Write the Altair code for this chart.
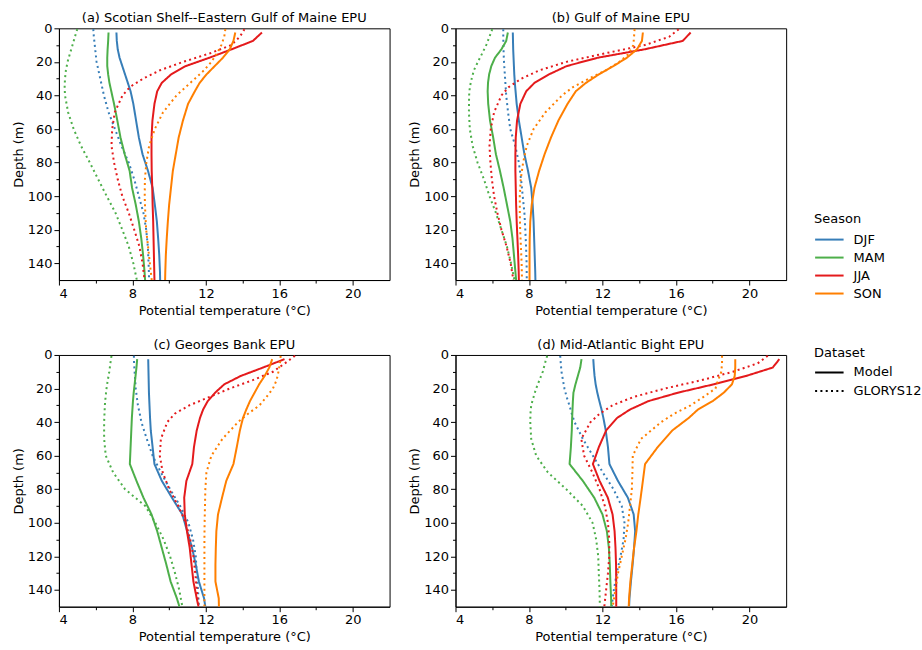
import altair as alt
import pandas as pd

SEASONS = ["DJF", "MAM", "JJA", "SON"]
COLORS = ["#377eb8", "#4daf4a", "#e41a1c", "#ff7f00"]
DATASETS = ["Model", "GLORYS12"]

MODEL_DEPTH = [2.5, 7.5, 12.5, 17.5, 22.5, 27.5, 32.5, 37.5, 45, 55, 65, 75, 85, 95, 105, 115, 125, 135, 145, 150]
GLORYS_DEPTH = [0.5, 5, 10, 15, 20, 25, 30, 35, 40, 50, 60, 70, 80, 90, 100, 110, 120, 130, 140, 150]

# (a) Scotian Shelf--Eastern Gulf of Maine
a_DJF_model = [7.13, 7.15, 7.2, 7.3, 7.45, 7.6, 7.75, 7.9, 8.05, 8.2, 8.35, 8.55, 8.85, 9.1, 9.22, 9.33, 9.4, 9.46, 9.5, 9.51]
a_DJF_glorys = [5.87, 5.9, 5.95, 6.0, 6.05, 6.15, 6.25, 6.35, 6.45, 6.7, 7.05, 7.4, 7.8, 8.1, 8.35, 8.6, 8.75, 8.84, 8.88, 8.91]
a_MAM_model = [6.7, 6.68, 6.65, 6.63, 6.63, 6.68, 6.75, 6.85, 7.0, 7.18, 7.35, 7.58, 7.85, 7.98, 8.18, 8.35, 8.48, 8.58, 8.66, 8.69]
a_MAM_glorys = [5.0, 4.87, 4.74, 4.6, 4.47, 4.38, 4.33, 4.31, 4.33, 4.5, 4.8, 5.2, 5.68, 6.14, 6.6, 7.08, 7.45, 7.8, 8.05, 8.24]
a_JJA_model = [15.05, 14.56, 13.4, 12.2, 10.9, 10.1, 9.6, 9.35, 9.2, 9.09, 9.04, 9.04, 9.05, 9.08, 9.1, 9.13, 9.15, 9.17, 9.19, 9.2]
a_JJA_glorys = [14.1, 13.85, 13.38, 12.2, 10.76, 9.5, 8.58, 7.86, 7.46, 7.04, 6.9, 6.86, 7.0, 7.2, 7.45, 7.8, 8.1, 8.38, 8.55, 8.66]
a_SON_model = [13.6, 13.5, 13.3, 12.93, 12.48, 12.03, 11.66, 11.4, 11.03, 10.75, 10.52, 10.36, 10.2, 10.1, 10.0, 9.93, 9.87, 9.82, 9.79, 9.78]
a_SON_glorys = [13.06, 13.0, 12.84, 12.6, 12.3, 11.9, 11.4, 10.9, 10.4, 9.67, 9.22, 8.91, 8.76, 8.68, 8.67, 8.7, 8.75, 8.85, 8.95, 9.05]

# (b) Gulf of Maine
b_DJF_model = [7.12, 7.13, 7.14, 7.16, 7.18, 7.2, 7.23, 7.27, 7.33, 7.45, 7.6, 7.75, 7.95, 8.12, 8.2, 8.25, 8.28, 8.31, 8.34, 8.35]
b_DJF_glorys = [6.6, 6.6, 6.61, 6.62, 6.64, 6.67, 6.7, 6.73, 6.76, 6.86, 6.98, 7.25, 7.45, 7.57, 7.66, 7.75, 7.8, 7.84, 7.87, 7.88]
b_MAM_model = [6.85, 6.76, 6.5, 6.15, 5.95, 5.83, 5.77, 5.75, 5.78, 5.88, 6.05, 6.2, 6.42, 6.62, 6.8, 6.98, 7.1, 7.18, 7.26, 7.3]
b_MAM_glorys = [6.0, 5.85, 5.67, 5.45, 5.22, 5.0, 4.88, 4.78, 4.74, 4.73, 4.78, 4.93, 5.2, 5.55, 5.85, 6.2, 6.5, 6.8, 7.02, 7.21]
b_JJA_model = [16.8, 16.37, 14.3, 11.75, 10.05, 9.08, 8.3, 7.85, 7.53, 7.35, 7.28, 7.26, 7.26, 7.28, 7.3, 7.33, 7.37, 7.41, 7.44, 7.45]
b_JJA_glorys = [16.15, 15.64, 14.3, 12.1, 10.03, 8.57, 7.58, 6.9, 6.5, 6.1, 5.92, 5.85, 5.9, 5.98, 6.1, 6.28, 6.5, 6.78, 7.0, 7.15]
b_SON_model = [14.2, 14.15, 13.88, 13.33, 12.6, 11.8, 11.1, 10.55, 10.1, 9.6, 9.2, 8.85, 8.55, 8.3, 8.15, 8.07, 8.04, 8.03, 8.03, 8.03]
b_SON_glorys = [13.75, 13.72, 13.68, 13.45, 12.92, 12.2, 11.25, 10.4, 9.8, 8.9, 8.25, 7.88, 7.68, 7.55, 7.5, 7.5, 7.52, 7.56, 7.6, 7.62]

# (c) Georges Bank
c_DJF_model = [8.86, 8.87, 8.88, 8.89, 8.9, 8.92, 8.94, 8.96, 9.0, 9.1, 9.2, 9.6, 10.15, 10.72, 10.98, 11.25, 11.45, 11.62, 11.9, 11.97]
c_DJF_glorys = [8.08, 8.09, 8.12, 8.15, 8.18, 8.24, 8.3, 8.4, 8.49, 8.78, 9.1, 9.55, 10.05, 10.6, 11.05, 11.3, 11.45, 11.5, 11.57, 11.62]
c_MAM_model = [8.26, 8.22, 8.17, 8.12, 8.07, 8.03, 8.0, 7.97, 7.94, 7.9, 7.86, 8.22, 8.6, 9.04, 9.35, 9.6, 9.85, 10.08, 10.42, 10.56]
c_MAM_glorys = [6.86, 6.8, 6.74, 6.66, 6.59, 6.54, 6.5, 6.48, 6.46, 6.46, 6.55, 6.95, 7.6, 8.7, 9.25, 9.7, 10.05, 10.32, 10.55, 10.72]
c_JJA_model = [16.28, 15.11, 13.9, 13.0, 12.5, 12.1, 11.85, 11.68, 11.5, 11.35, 11.26, 10.94, 10.82, 10.85, 10.97, 11.12, 11.22, 11.32, 11.5, 11.6]
c_JJA_glorys = [16.85, 16.3, 15.65, 14.55, 13.3, 12.2, 11.1, 10.3, 9.9, 9.55, 9.49, 9.65, 10.0, 10.5, 10.9, 11.15, 11.32, 11.42, 11.5, 11.6]
c_SON_model = [15.61, 15.45, 15.2, 14.9, 14.65, 14.4, 14.2, 14.02, 13.85, 13.68, 13.5, 13.11, 12.88, 12.66, 12.57, 12.54, 12.52, 12.52, 12.7, 12.71]
c_SON_glorys = [16.07, 16.03, 15.95, 15.85, 15.65, 15.3, 14.92, 14.3, 13.75, 12.9, 12.3, 12.03, 11.97, 11.95, 11.93, 11.92, 11.92, 11.92, 11.92, 11.92]

# (d) Mid-Atlantic Bight
d_DJF_model = [11.5, 11.53, 11.57, 11.63, 11.72, 11.83, 11.95, 12.05, 12.18, 12.3, 12.38, 12.84, 13.38, 13.7, 13.78, 13.72, 13.64, 13.55, 13.47, 13.45]
d_DJF_glorys = [9.7, 9.73, 9.77, 9.85, 9.93, 10.05, 10.2, 10.33, 10.48, 10.93, 11.48, 12.02, 12.6, 13.05, 13.2, 13.15, 12.98, 12.78, 12.62, 12.5]
d_MAM_model = [10.86, 10.79, 10.66, 10.53, 10.42, 10.39, 10.37, 10.35, 10.33, 10.28, 10.21, 10.93, 11.55, 12.0, 12.24, 12.35, 12.4, 12.43, 12.47, 12.48]
d_MAM_glorys = [8.99, 8.87, 8.75, 8.57, 8.39, 8.25, 8.12, 8.08, 8.07, 8.12, 8.39, 9.03, 10.03, 10.93, 11.46, 11.66, 11.77, 11.8, 11.84, 11.86]
d_JJA_model = [21.63, 21.27, 19.82, 18.05, 16.1, 14.5, 13.5, 12.8, 12.2, 11.8, 11.48, 11.84, 12.29, 12.55, 12.66, 12.71, 12.74, 12.75, 12.75, 12.75]
d_JJA_glorys = [21.0, 20.45, 19.1, 17.4, 15.4, 13.7, 12.55, 11.85, 11.35, 10.85, 11.0, 11.45, 11.84, 12.13, 12.3, 12.37, 12.37, 12.3, 12.2, 12.1]
d_SON_model = [19.23, 19.23, 19.2, 19.05, 18.6, 18.0, 17.2, 16.7, 15.8, 15.0, 14.32, 14.2, 14.08, 13.95, 13.85, 13.72, 13.62, 13.52, 13.45, 13.43]
d_SON_glorys = [18.51, 18.51, 18.47, 18.3, 18.15, 17.5, 16.8, 15.9, 15.2, 14.1, 13.65, 13.63, 13.6, 13.5, 13.4, 13.25, 13.05, 12.85, 12.7, 12.56]

PANELS = [
    ("a", "(a) Scotian Shelf--Eastern Gulf of Maine EPU"),
    ("b", "(b) Gulf of Maine EPU"),
    ("c", "(c) Georges Bank EPU"),
    ("d", "(d) Mid-Atlantic Bight EPU"),
]

SERIES = {
    "a": {"DJF": (a_DJF_model, a_DJF_glorys), "MAM": (a_MAM_model, a_MAM_glorys),
          "JJA": (a_JJA_model, a_JJA_glorys), "SON": (a_SON_model, a_SON_glorys)},
    "b": {"DJF": (b_DJF_model, b_DJF_glorys), "MAM": (b_MAM_model, b_MAM_glorys),
          "JJA": (b_JJA_model, b_JJA_glorys), "SON": (b_SON_model, b_SON_glorys)},
    "c": {"DJF": (c_DJF_model, c_DJF_glorys), "MAM": (c_MAM_model, c_MAM_glorys),
          "JJA": (c_JJA_model, c_JJA_glorys), "SON": (c_SON_model, c_SON_glorys)},
    "d": {"DJF": (d_DJF_model, d_DJF_glorys), "MAM": (d_MAM_model, d_MAM_glorys),
          "JJA": (d_JJA_model, d_JJA_glorys), "SON": (d_SON_model, d_SON_glorys)},
}

rows = []
for p, _ in PANELS:
    for s in SEASONS:
        model, glorys = SERIES[p][s]
        for dep, t in zip(MODEL_DEPTH, model):
            rows.append({"panel": p, "season": s, "dataset": "Model", "depth": dep, "temp": t})
        for dep, t in zip(GLORYS_DEPTH, glorys):
            rows.append({"panel": p, "season": s, "dataset": "GLORYS12", "depth": dep, "temp": t})
df = pd.DataFrame(rows)

FONT = "DejaVu Sans"
X_MAJOR = [4, 8, 12, 16, 20]
X_MINOR = [6, 10, 14, 18]
Y_MAJOR = [0, 20, 40, 60, 80, 100, 120, 140]
Y_MINOR = [10, 30, 50, 70, 90, 110, 130]

xscale = alt.Scale(domain=[4, 22], nice=False, zero=False)
yscale = alt.Scale(domain=[0, 150], reverse=True, nice=False, zero=False)

LEGEND_SYMBOL = "M-1,0H2"


def make_panel(key, title):
    base = alt.Chart(df[df.panel == key])
    lines = base.mark_line(strokeWidth=2, color="black", clip=True).encode(
        x=alt.X("temp:Q", scale=xscale,
                axis=alt.Axis(values=X_MAJOR, title="Potential temperature (°C)", orient="bottom",
                              tickSize=5, labelPadding=2, titlePadding=4, grid=False)),
        y=alt.Y("depth:Q", scale=yscale,
                axis=alt.Axis(values=Y_MAJOR, title="Depth (m)", orient="left",
                              tickSize=5, labelPadding=2, titlePadding=2, grid=False)),
        color=alt.Color("season:N", scale=alt.Scale(domain=SEASONS, range=COLORS),
                        legend=alt.Legend(title="Season", orient="none", legendX=756, legendY=185,
                                          rowPadding=0, titlePadding=3)),
        strokeDash=alt.StrokeDash("dataset:N",
                                  scale=alt.Scale(domain=DATASETS, range=[[1, 0], [2, 3.3]]),
                                  legend=alt.Legend(title="Dataset", orient="none", legendX=756, legendY=319,
                                                    rowPadding=0.5, titlePadding=2,
                                                    symbolStrokeColor="black", symbolOpacity=1)),
        order=alt.Order("depth:Q"),
    )
    minor = base.mark_point(opacity=0).encode(
        x=alt.X("temp:Q", scale=xscale,
                axis=alt.Axis(values=X_MINOR, labels=False, title=None, orient="bottom",
                              tickSize=3, domain=False, grid=False)),
        y=alt.Y("depth:Q", scale=yscale,
                axis=alt.Axis(values=Y_MINOR, labels=False, title=None, orient="left",
                              tickSize=3, domain=False, grid=False)),
    )
    return alt.layer(lines, minor).resolve_axis(x="independent", y="independent").properties(
        width=331, height=252,
        title=alt.TitleParams(title, fontSize=13, font=FONT, fontWeight="normal", color="black",
                              offset=-3, anchor="middle"),
    )


panels = [make_panel(k, t) for k, t in PANELS]

chart = alt.concat(*panels, columns=2, spacing={"row": 75, "column": 66}, bounds="flush").properties(
    padding={"left": 11, "top": 11, "right": 0, "bottom": 0},
    background="white",
).configure_view(
    stroke="black", strokeWidth=1
).configure_axis(
    labelFont=FONT, titleFont=FONT, labelFontSize=13, titleFontSize=13,
    labelColor="black", titleColor="black", titleFontWeight="normal",
    domainColor="black", tickColor="black", tickWidth=1, domainWidth=1,
).configure_legend(
    labelFont=FONT, titleFont=FONT, labelFontSize=13, titleFontSize=13,
    labelColor="black", titleColor="black", titleFontWeight="normal",
    symbolType=LEGEND_SYMBOL, symbolStrokeWidth=2, symbolSize=361, labelOffset=18.5, padding=0,
)

chart.save("out.html", embed_options={"renderer": "svg", "actions": False})
